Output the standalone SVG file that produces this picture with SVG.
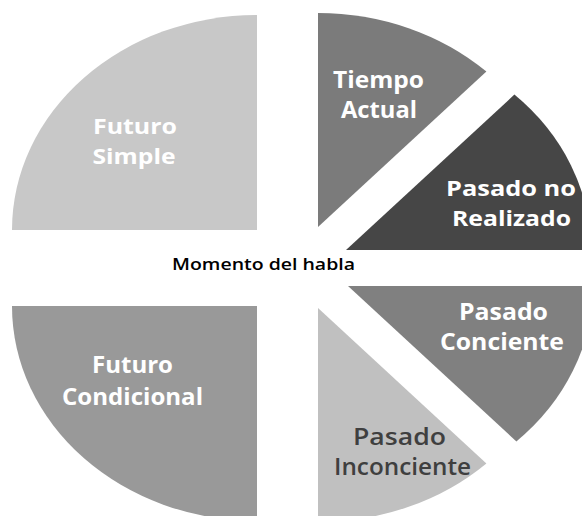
<svg xmlns="http://www.w3.org/2000/svg" width="582" height="516" viewBox="0 0 582 516">
  <style>
    .lbl { font-family: "Open Sans", "Liberation Sans", sans-serif; font-weight: bold; font-size: 23px; fill: #ffffff; text-anchor: middle; }
    .tight { font-size: 21.5px; }
    .dark { fill: #3f3f3f; font-weight: 600; }
    .center { font-family: "Open Sans", "Liberation Sans", sans-serif; font-weight: 600; font-size: 15.5px; fill: #000000; text-anchor: middle; }
  </style>
  <rect width="582" height="516" fill="#ffffff"/>
  <g id="futuro-simple">
    <path d="M257,230 L12,230 A245,215 0 0 1 257,15 Z" fill="#c8c8c8"/>
    <text class="lbl tight" x="135" y="134" textLength="84" lengthAdjust="spacingAndGlyphs">Futuro</text>
    <text class="lbl tight" x="134" y="164" textLength="83" lengthAdjust="spacingAndGlyphs">Simple</text>
  </g>
  <g id="tiempo-actual">
    <path d="M318,227 L318,13 A245,214 0 0 1 486.4,71.6 Z" fill="#7b7b7b"/>
    <text class="lbl" x="378.5" y="88" textLength="91" lengthAdjust="spacingAndGlyphs">Tiempo</text>
    <text class="lbl" x="379" y="118" textLength="76" lengthAdjust="spacingAndGlyphs">Actual</text>
  </g>
  <g id="pasado-no-realizado">
    <path d="M346,250 L514.4,94.6 A245,214 0 0 1 591,250 Z" fill="#464646"/>
    <text class="lbl tight" x="511" y="196" textLength="130" lengthAdjust="spacingAndGlyphs">Pasado no</text>
    <text class="lbl tight" x="511.5" y="226" textLength="119" lengthAdjust="spacingAndGlyphs">Realizado</text>
  </g>
  <g id="pasado-conciente">
    <path d="M348,286 L593,286 A245,214 0 0 1 516.4,441.4 Z" fill="#808080"/>
    <text class="lbl" x="503.5" y="320" textLength="89" lengthAdjust="spacingAndGlyphs">Pasado</text>
    <text class="lbl" x="502" y="350" textLength="124" lengthAdjust="spacingAndGlyphs">Conciente</text>
  </g>
  <g id="pasado-inconciente">
    <path d="M318,308 L486.4,463.4 A245,214 0 0 1 318,522 Z" fill="#c0c0c0"/>
    <text class="lbl dark" x="399.5" y="445" textLength="93" lengthAdjust="spacingAndGlyphs">Pasado</text>
    <text class="lbl dark" x="402.5" y="475" textLength="137" lengthAdjust="spacingAndGlyphs">Inconciente</text>
  </g>
  <g id="futuro-condicional">
    <path d="M257,306 L257,521 A245,215 0 0 1 12,306 Z" fill="#999999"/>
    <text class="lbl" x="132.5" y="373" textLength="81" lengthAdjust="spacingAndGlyphs">Futuro</text>
    <text class="lbl" x="132.5" y="405" textLength="141" lengthAdjust="spacingAndGlyphs">Condicional</text>
  </g>
  <g id="momento-del-habla">
    <text class="center" x="263.5" y="270" textLength="183" lengthAdjust="spacingAndGlyphs">Momento del habla</text>
  </g>
</svg>
